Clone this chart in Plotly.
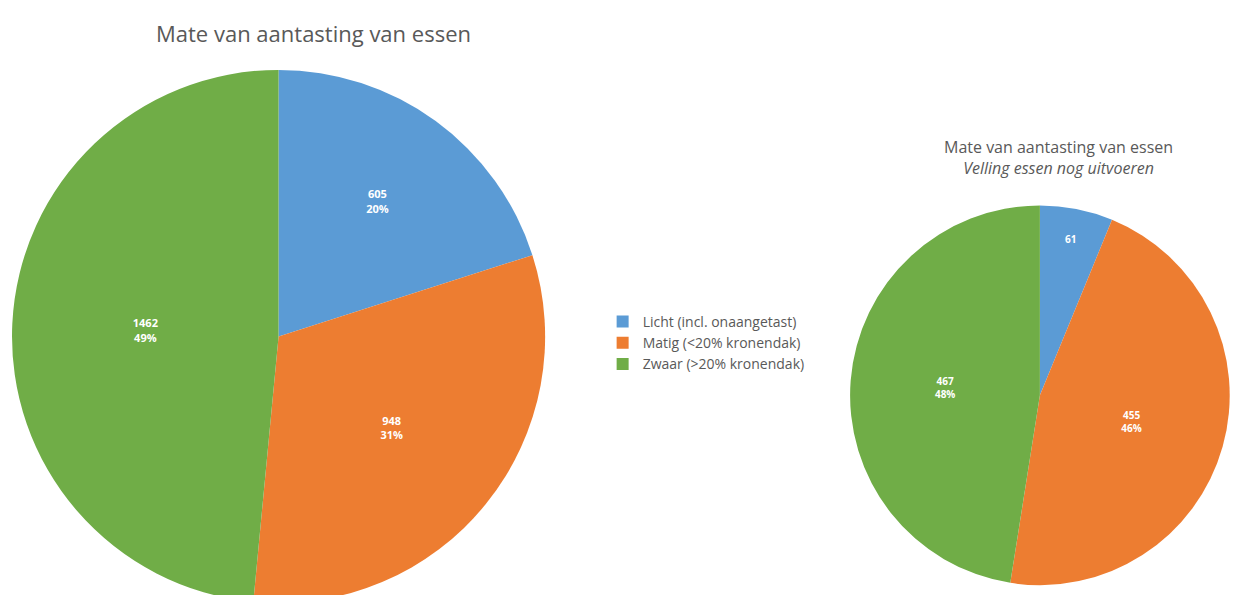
import plotly.graph_objects as go

# data
labels = ["Licht (incl. onaangetast)", "Matig (<20% kronendak)", "Zwaar (>20% kronendak)"]
totaal_waarden = [605, 948, 1462]
totaal_pct = ["20%", "31%", "49%"]
velling_waarden = [61, 455, 467]
kleuren = ["#5B9BD5", "#ED7D31", "#70AD47"]

fig = go.Figure()

fig.add_trace(go.Pie(
    labels=labels,
    values=totaal_waarden,
    text=totaal_pct,
    sort=False,
    direction="clockwise",
    rotation=0,
    marker=dict(colors=kleuren),
    texttemplate="<b>%{value}<br>%{text}</b>",
    textposition="inside",
    insidetextorientation="horizontal",
    textfont=dict(color="white", size=11, family="Open Sans"),
    domain=dict(x=[0.0, 0.435], y=[0.0, 0.896]),
    showlegend=True,
))

fig.add_trace(go.Pie(
    labels=labels,
    values=velling_waarden,
    sort=False,
    direction="clockwise",
    rotation=0,
    marker=dict(colors=kleuren),
    texttemplate=["<b>%{value}</b>", "<b>%{value}<br>%{percent:.0%}</b>",
                  "<b>%{value}<br>%{percent:.0%}</b>"],
    textposition="inside",
    insidetextorientation="horizontal",
    textfont=dict(color="white", size=10, family="Open Sans"),
    domain=dict(x=[0.676, 0.983], y=[0.03, 0.668]),
    showlegend=False,
))

fig.add_annotation(
    text="Mate van aantasting van essen",
    x=305 / 1244, y=1 - 25 / 595, xref="paper", yref="paper",
    xanchor="center", yanchor="middle",
    showarrow=False, font=dict(size=22, color="#595959", family="Open Sans"),
)
fig.add_annotation(
    text="Mate van aantasting van essen<br><i>Velling essen nog uitvoeren</i>",
    x=1050 / 1244, y=1 - 149 / 595, xref="paper", yref="paper",
    xanchor="center", yanchor="middle",
    showarrow=False, font=dict(size=16, color="#595959", family="Open Sans"),
)

fig.update_layout(
    width=1244,
    height=595,
    margin=dict(l=0, r=0, t=0, b=0),
    paper_bgcolor="white",
    plot_bgcolor="white",
    legend=dict(
        x=0.478, y=0.437, xanchor="left", yanchor="middle",
        font=dict(size=14, color="#595959", family="Open Sans"),
        itemsizing="constant",
    ),
)

fig.write_html("out.html")
